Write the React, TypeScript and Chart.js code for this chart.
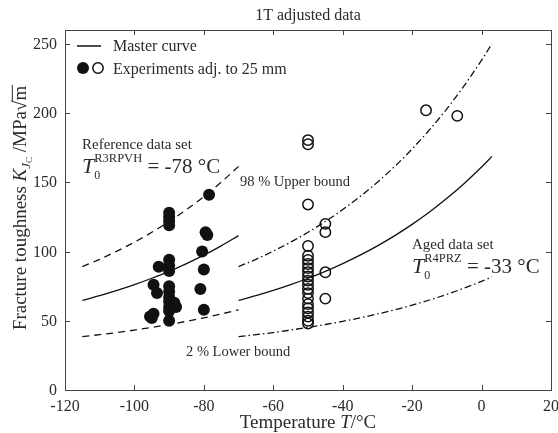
import React, { useEffect, useRef } from "react";
import { Chart, registerables } from "chart.js";
Chart.register(...registerables);

// ---- Data ----
const xTicks = [-120, -100, -80, -60, -40, -20, 0, 20];
const yTicks = [0, 50, 100, 150, 200, 250];

// Reference data set (T0 = -78 °C) curves
const refCurveT = [-115, -110, -105, -100, -95, -90, -85, -80, -75, -70];
const refMaster = [64.7, 68.1, 71.9, 76.1, 80.7, 85.7, 91.3, 97.4, 104.1, 111.5];
const refUpper = [89.1, 94.4, 100.3, 106.8, 113.9, 121.7, 130.3, 139.7, 150.1, 161.5];
const refLower = [38.5, 40.0, 41.5, 43.3, 45.2, 47.3, 49.6, 52.1, 54.9, 57.9];

// Aged data set (T0 = -33 °C) curves
const agedCurveT = [-70, -65, -60, -55, -50, -45, -40, -35, -30, -25, -20, -15, -10, -5, 0, 3];
const agedMaster = [64.7, 68.1, 71.9, 76.1, 80.7, 85.7, 91.3, 97.4, 104.1, 111.5, 119.6, 128.5, 138.4, 149.2, 161.0, 168.7];
const agedUpper = [89.1, 94.4, 100.3, 106.8, 113.9, 121.7, 130.3, 139.7, 150.1, 161.5, 174.1, 187.9, 203.1, 219.8, 238.2, 250.1];
const agedLower = [38.5, 40.0, 41.5, 43.3, 45.2, 47.3, 49.6, 52.1, 54.9, 57.9, 61.3, 65.0, 69.1, 73.6, 78.5, 81.7];

// Reference experiments (filled)
const refT = [-95.5, -95, -94.5, -94.5, -93.5, -93, -90, -90, -90, -90, -90, -90, -90, -90, -90, -90, -90, -90, -90, -90, -88.5, -88, -81, -80.5, -80, -80, -79.5, -79, -78.5];
const refK = [53, 52, 55, 76, 70, 89, 128, 125, 122, 119, 94, 90, 86, 75, 71, 67, 64, 60, 57, 50, 63, 60, 73, 100, 87, 58, 114, 112, 141];

// Aged experiments (open)
const agedT = [-50, -50, -50, -50, -50, -50, -50, -50, -50, -50, -50, -50, -50, -50, -50, -50, -50, -50, -50, -50, -50, -45, -45, -45, -45, -16, -7];
const agedK = [180.5, 177.5, 134, 104, 97, 94, 91, 88, 85, 82, 79, 76, 73, 70, 66, 62, 59, 56, 53, 50, 48, 120, 114, 85, 66, 202, 198];

const FONT = '"Liberation Serif", "DejaVu Serif", serif';
const TXT = "#2b2b2b";

type Run = { t: string; size: number; italic?: boolean; dy?: number; stackWithPrev?: boolean; overline?: boolean };

function drawRuns(ctx: CanvasRenderingContext2D, x: number, y: number, runs: Run[], measureOnly = false): number {
  let cx = x;
  let prevStart = x;
  let prevW = 0;
  for (const r of runs) {
    ctx.font = `${r.italic ? "italic " : ""}${r.size}px ${FONT}`;
    const w = ctx.measureText(r.t).width;
    let sx = cx;
    if (r.stackWithPrev) {
      sx = prevStart;
    }
    if (!measureOnly) {
      ctx.fillText(r.t, sx, y + (r.dy || 0));
      if (r.overline) {
        ctx.save();
        ctx.strokeStyle = TXT;
        ctx.lineWidth = 1;
        ctx.beginPath();
        const oy = y + (r.dy || 0) - r.size * 0.72;
        ctx.moveTo(sx - 1, oy);
        ctx.lineTo(sx + w + 1, oy);
        ctx.stroke();
        ctx.restore();
      }
    }
    if (r.stackWithPrev) {
      cx = Math.max(prevStart + prevW, sx + w);
    } else {
      prevStart = sx;
      prevW = w;
      cx = sx + w;
    }
  }
  return cx - x;
}

const decorPlugin = {
  id: "decor",
  afterDraw(chart: any) {
    const ctx: CanvasRenderingContext2D = chart.ctx;
    const { left, right, top, bottom } = chart.chartArea;
    const xs = chart.scales.x;
    const ys = chart.scales.y;
    ctx.save();
    // frame
    ctx.strokeStyle = "#444";
    ctx.lineWidth = 1;
    ctx.strokeRect(Math.round(left) + 0.5, Math.round(top) + 0.5, Math.round(right - left), Math.round(bottom - top));
    // ticks
    ctx.beginPath();
    for (const v of xTicks) {
      const px = Math.round(xs.getPixelForValue(v)) + 0.5;
      ctx.moveTo(px, bottom);
      ctx.lineTo(px, bottom - 5);
      ctx.moveTo(px, top);
      ctx.lineTo(px, top + 5);
    }
    for (const v of yTicks) {
      const py = Math.round(ys.getPixelForValue(v)) + 0.5;
      ctx.moveTo(left, py);
      ctx.lineTo(left + 5, py);
      ctx.moveTo(right, py);
      ctx.lineTo(right - 5, py);
    }
    ctx.stroke();

    ctx.fillStyle = TXT;
    ctx.textBaseline = "alphabetic";
    // tick labels
    ctx.font = `16px ${FONT}`;
    ctx.textAlign = "center";
    for (const v of xTicks) {
      ctx.fillText(String(v), xs.getPixelForValue(v), bottom + 21);
    }
    ctx.textAlign = "right";
    for (const v of yTicks) {
      ctx.fillText(String(v), left - 8, ys.getPixelForValue(v) + 5);
    }
    ctx.textAlign = "left";

    // title
    const titleRuns: Run[] = [{ t: "1T adjusted data", size: 16 }];
    const tw = drawRuns(ctx, 0, 0, titleRuns, true);
    drawRuns(ctx, (left + right) / 2 - tw / 2, 20, titleRuns);

    // x axis label
    const xl: Run[] = [
      { t: "Temperature ", size: 19 },
      { t: "T", size: 19, italic: true },
      { t: "/°C", size: 19 },
    ];
    const xw = drawRuns(ctx, 0, 0, xl, true);
    drawRuns(ctx, (left + right) / 2 - xw / 2, bottom + 38, xl);

    // y axis label
    const yl: Run[] = [
      { t: "Fracture toughness ", size: 19 },
      { t: "K", size: 19, italic: true },
      { t: "J", size: 13, italic: true, dy: 4 },
      { t: "C", size: 9, dy: 6 },
      { t: " /MPa", size: 19 },
      { t: "√", size: 19 },
      { t: "m", size: 19, overline: true },
    ];
    const yw = drawRuns(ctx, 0, 0, yl, true);
    ctx.save();
    ctx.translate(26, 208);
    ctx.rotate(-Math.PI / 2);
    drawRuns(ctx, -yw / 2, 0, yl);
    ctx.restore();

    // legend
    ctx.strokeStyle = "#111";
    ctx.lineWidth = 1.5;
    ctx.beginPath();
    ctx.moveTo(77, 46);
    ctx.lineTo(101, 46);
    ctx.stroke();
    drawRuns(ctx, 113, 51, [{ t: "Master curve", size: 16 }]);
    ctx.fillStyle = "#111";
    ctx.beginPath();
    ctx.arc(83, 68, 6, 0, Math.PI * 2);
    ctx.fill();
    ctx.beginPath();
    ctx.arc(98, 68, 5.2, 0, Math.PI * 2);
    ctx.stroke();
    ctx.fillStyle = TXT;
    drawRuns(ctx, 113, 74, [{ t: "Experiments adj. to 25 mm", size: 16 }]);

    // annotations
    drawRuns(ctx, 82, 149, [{ t: "Reference data set", size: 15 }]);
    drawRuns(ctx, 82, 173, [
      { t: "T", size: 22, italic: true },
      { t: "R3RPVH", size: 12.5, dy: -11 },
      { t: "0", size: 12, dy: 6, stackWithPrev: true },
      { t: " = -78 °C", size: 21 },
    ]);
    drawRuns(ctx, 240, 186, [{ t: "98 % Upper bound", size: 14.5 }]);
    drawRuns(ctx, 186, 356, [{ t: "2 % Lower bound", size: 14.5 }]);
    drawRuns(ctx, 412, 249, [{ t: "Aged data set", size: 15 }]);
    drawRuns(ctx, 412, 273, [
      { t: "T", size: 22, italic: true },
      { t: "R4PRZ", size: 12.5, dy: -11 },
      { t: "0", size: 12, dy: 6, stackWithPrev: true },
      { t: " = -33 °C", size: 21 },
    ]);
    ctx.restore();
  },
};

function pts(xs: number[], ys: number[]) {
  return xs.map((x, i) => ({ x, y: ys[i] }));
}

export default function App() {
  const ref = useRef<HTMLCanvasElement | null>(null);
  useEffect(() => {
    if (!ref.current) return;
    const lineDs = (label: string, xs: number[], ys: number[], dash: number[]) => ({
      label,
      data: pts(xs, ys),
      showLine: true,
      borderColor: "#111",
      borderWidth: 1.3,
      borderDash: dash,
      pointRadius: 0,
      fill: false,
      cubicInterpolationMode: "monotone" as const,
    });
    const chart = new Chart(ref.current, {
      type: "scatter",
      data: {
        datasets: [
          lineDs("Ref master", refCurveT, refMaster, []),
          lineDs("Ref upper", refCurveT, refUpper, [7, 5]),
          lineDs("Ref lower", refCurveT, refLower, [7, 5]),
          lineDs("Aged master", agedCurveT, agedMaster, []),
          lineDs("Aged upper", agedCurveT, agedUpper, [7, 3, 1.5, 3]),
          lineDs("Aged lower", agedCurveT, agedLower, [7, 3, 1.5, 3]),
          {
            label: "Reference experiments",
            data: pts(refT, refK),
            showLine: false,
            pointRadius: 6,
            pointBackgroundColor: "#111",
            pointBorderColor: "#111",
            pointBorderWidth: 0,
          },
          {
            label: "Aged experiments",
            data: pts(agedT, agedK),
            showLine: false,
            pointRadius: 5.2,
            pointBackgroundColor: "rgba(0,0,0,0)",
            pointBorderColor: "#111",
            pointBorderWidth: 1.5,
          },
        ],
      },
      options: {
        responsive: false,
        animation: false,
        devicePixelRatio: 1,
        layout: { padding: { left: 0, right: 7, top: 30, bottom: 0 } },
        plugins: { legend: { display: false }, tooltip: { enabled: false }, title: { display: false } },
        events: [],
        scales: {
          x: {
            type: "linear",
            min: -120,
            max: 20,
            ticks: { display: false },
            grid: { display: false },
            border: { display: false },
            afterFit: (s: any) => {
              s.height = 43;
            },
          },
          y: {
            type: "linear",
            min: 0,
            max: 260,
            ticks: { display: false },
            grid: { display: false },
            border: { display: false },
            afterFit: (s: any) => {
              s.width = 65;
            },
          },
        },
      },
      plugins: [decorPlugin],
    } as any);
    return () => chart.destroy();
  }, []);
  return (
    <div style={{ position: "fixed", left: 0, top: 0, width: 558, height: 433, background: "#fff" }}>
      <canvas ref={ref} width={558} height={433} style={{ display: "block" }} />
    </div>
  );
}
